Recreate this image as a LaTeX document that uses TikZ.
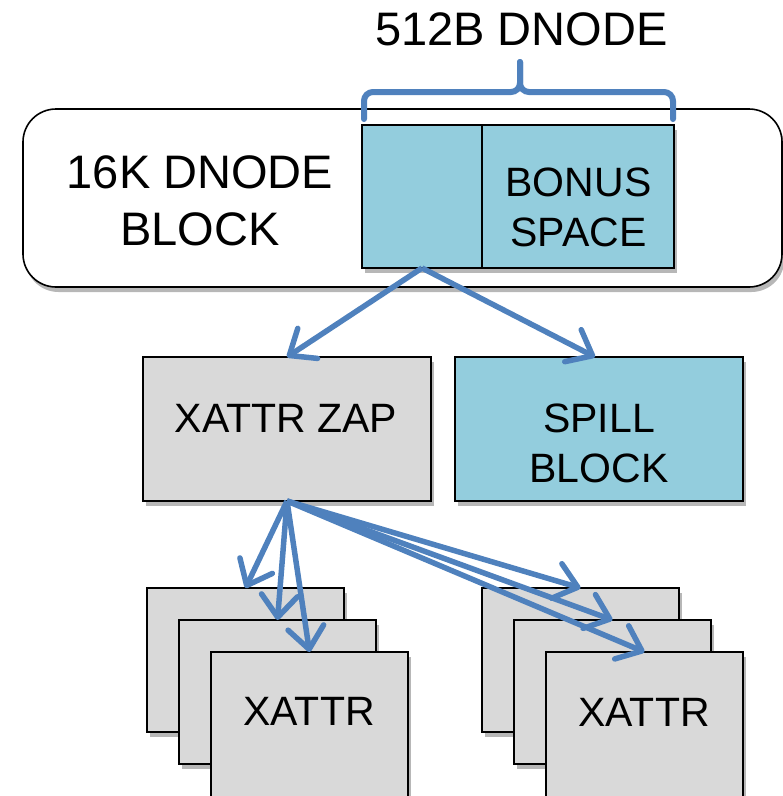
\documentclass[tikz,border=0pt]{standalone}
\usepackage{fontspec}
\setmainfont{Liberation Sans}
\usetikzlibrary{arrows.meta,shadows,calc}
\definecolor{aqua}{HTML}{93CDDD}
\definecolor{lgray}{HTML}{D9D9D9}
\definecolor{arrowblue}{HTML}{4F81BD}
\begin{document}
\begin{tikzpicture}[x=1pt,y=-1pt,
  box/.style={draw=black, line width=1.6pt, inner sep=0pt, outer sep=0pt,
    drop shadow={shadow xshift=2.5pt, shadow yshift=-5pt, opacity=0.4, fill=black!70}},
  graybox/.style={box, fill=lgray},
  bluebox/.style={box, fill=aqua},
  stackbox/.style={graybox, minimum width=197pt, minimum height=144pt},
  bigtxt/.style={font=\fontsize{47}{57}\selectfont, inner sep=0pt, align=center, anchor=base},
  smalltxt/.style={font=\fontsize{41}{50}\selectfont, inner sep=0pt, align=center, anchor=base},
  link/.style={draw=arrowblue, line width=5.5pt, -{Straight Barb[round,length=22pt,width=36pt]}},
]
\useasboundingbox (0,0) rectangle (783,796);

% big rounded dnode block
\node[box, fill=white, rounded corners=33pt, minimum width=759pt, minimum height=178pt] (dblock) at (402.5,198) {};

% dnode parts
\node[bluebox, minimum width=120pt, minimum height=143pt] (dnodeL) at (422,196.5) {};
\node[bluebox, minimum width=192pt, minimum height=143pt] (bonus) at (578,196.5) {};

% second row
\node[graybox, minimum width=288pt, minimum height=144pt] (zap) at (287,429) {};
\node[bluebox, minimum width=288pt, minimum height=144pt] (spill) at (599,429) {};

% xattr stacks
\node[stackbox] (L1) at (245.5,660) {};
\node[stackbox] (L2) at (277.5,692) {};
\node[stackbox, minimum height=150pt] (L3) at (309.5,727) {};
\node[stackbox] (R1) at (580.5,660) {};
\node[stackbox] (R2) at (612.5,692) {};
\node[stackbox, minimum height=150pt] (R3) at (644.5,727) {};

% texts
\node[bigtxt] (t512) at (521.5,45) {512B DNODE};
\node[bigtxt] (t16k) at (200,245) {16K DNODE\\BLOCK};
\node[smalltxt] (tbonus) at (578.5,246) {BONUS\\SPACE};
\node[smalltxt] (tzap) at (286,432) {XATTR ZAP};
\node[smalltxt] (tspill) at (599,482) {SPILL\\BLOCK};
\node[smalltxt] (txl) at (309,725) {XATTR};
\node[smalltxt] (txr) at (644,726) {XATTR};

% brace
\draw[arrowblue, line width=6pt, line cap=round, rounded corners=9pt]
  (364,119) -- (364,92) -- (520,92) -- (520,62);
\draw[arrowblue, line width=6pt, line cap=round, rounded corners=9pt]
  (673,119) -- (673,92) -- (520,92) -- (520,62);

% arrows
\draw[link] (dnodeL.south) -- (zap.north);
\draw[link] (dnodeL.south) -- ($(spill.north)+(-4,0)$);
\draw[link] (zap.south) -- (L1.north);
\draw[link] (zap.south) -- (L2.north);
\draw[link] (zap.south) -- (L3.north);
\draw[link] (zap.south) -- (R1.north);
\draw[link] (zap.south) -- (R2.north);
\draw[link] (zap.south) -- (R3.north);
\end{tikzpicture}
\end{document}
